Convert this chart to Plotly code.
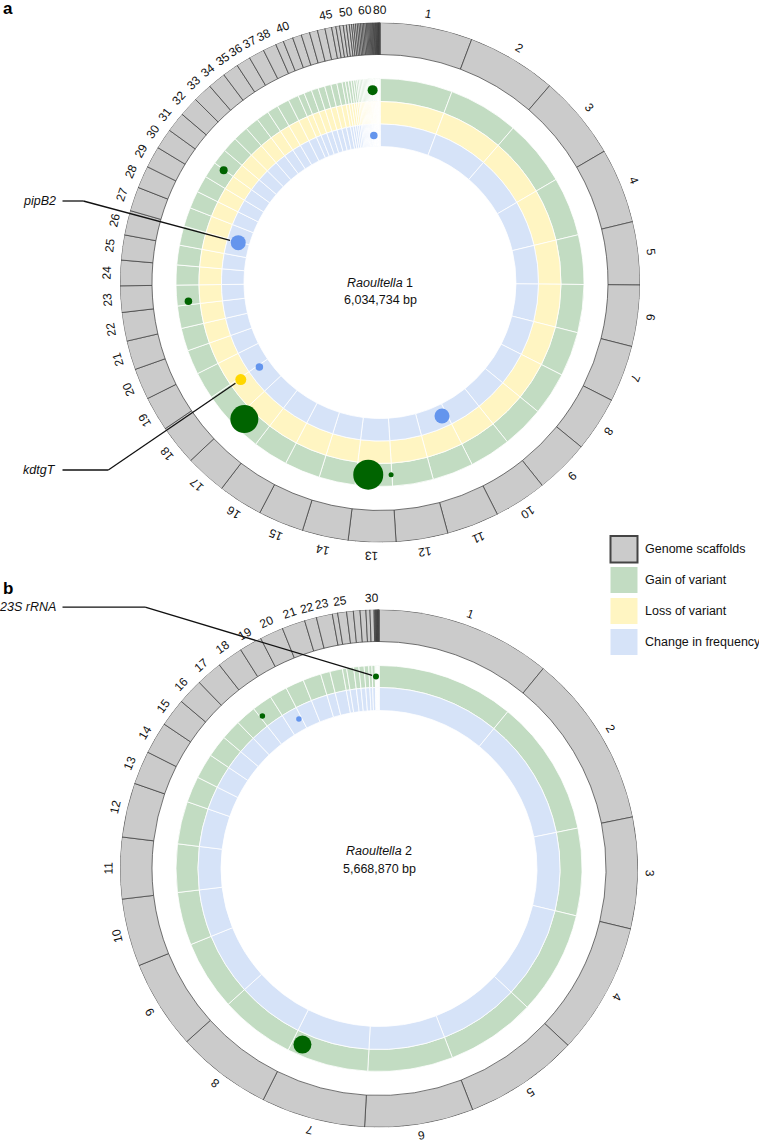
import math
import plotly.graph_objects as go

W, H = 759, 1143

# ---------------- data: Raoultella 1 ----------------
r1_name = "1"
r1_size_text = "6,034,734 bp"
r1_lengths = [
    346334, 336900, 316800, 281600, 236400, 229700, 212900, 206200, 202800, 197800,
    196100, 194500, 177700, 172700, 171000, 167600, 154200, 150900, 129100, 117300,
    109000, 107300, 98900, 95500, 93900, 92200, 90500, 83800, 80500, 77100,
    75400, 73800, 72100, 67100, 60300, 53600, 58700, 50300, 30200, 36900,
    33500, 31800, 30200, 28500, 25100, 15900, 14200, 13400, 11700, 10900,
    8400, 7500, 7000, 6700, 6400, 6000, 5700, 5500, 5400, 5000,
    4500, 4200, 3900, 3500, 3400, 3200, 3000, 2900, 2700, 2500,
    2300, 2200, 2000, 1800, 1700, 1500, 1300, 1300, 1200, 1200,
]
r1_labelled = list(range(1, 39)) + [40, 45, 50, 60, 80]
r1_gain_pos = [5997900, 5124500, 4432200, 3768400, 3076000, 2962000]
r1_gain_mag = [10, 8, 7.5, 28, 30, 5]
r1_loss_pos = [3941000]
r1_loss_mag = [11]
r1_freq_pos = [5994500, 4789200, 3939300, 2600000]
r1_freq_mag = [7.5, 15, 7.5, 15]

# ---------------- data: Raoultella 2 ----------------
r2_name = "2"
r2_size_text = "5,668,870 bp"
r2_lengths = [
    620370, 615700, 393700, 466100, 404700, 384200, 368500, 337000, 314900, 239400,
    217300, 192100, 118100, 113400, 99200, 91300, 92900, 91300, 80300, 83500,
    81900, 42500, 56700, 18900, 31500, 23600, 23600, 20500, 14200, 14200,
    3100, 2400, 2000, 1900, 1600, 1600, 1400, 1300, 1100, 900,
]
r2_labelled = list(range(1, 24)) + [25, 30]
r2_gain_pos = [5654700, 5079900, 3204500]
r2_gain_mag = [6, 5.5, 18]
r2_freq_pos = [5224800]
r2_freq_mag = [5.5]

TICK_STEP = 50000

# gene call-outs: (label, circle, track, index, label y, elbow x)
callouts = [
    ("pipB2", 1, "freq", 1, 201.0, 83.3),
    ("kdtgT", 1, "loss", 0, 470.0, 108.3),
    ("23S rRNA", 2, "gain", 0, 607.2, 145.2),
]

# ---------------- style / geometry ----------------
C_GRAY = "#cbcbcb"
C_GAIN = "#c2dcc2"
C_LOSS = "#fff5c2"
C_FREQ = "#d6e3f8"
D_GAIN = "#006400"
D_LOSS = "#ffd700"
D_FREQ = "#6495ed"
FONT = "Liberation Sans, Arial, sans-serif"

geo = {
    1: dict(cx=380.0, cy=282.5, R=260.0, ring=(228.0, 260.0),
            tracks={"gain": (181.0, 204.0), "loss": (158.5, 181.0), "freq": (136.0, 158.5)},
            lab_r=273.0, sub="polar"),
    2: dict(cx=379.0, cy=868.5, R=259.0, ring=(227.0, 259.0),
            tracks={"gain": (181.0, 203.0), "freq": (158.0, 181.0)},
            lab_r=270.5, sub="polar2"),
}

data = {
    1: dict(lengths=r1_lengths, labelled=r1_labelled, name=r1_name, size=r1_size_text,
            dots={"gain": (r1_gain_pos, r1_gain_mag), "loss": (r1_loss_pos, r1_loss_mag),
                  "freq": (r1_freq_pos, r1_freq_mag)}),
    2: dict(lengths=r2_lengths, labelled=r2_labelled, name=r2_name, size=r2_size_text,
            dots={"gain": (r2_gain_pos, r2_gain_mag), "freq": (r2_freq_pos, r2_freq_mag)}),
}

track_fill = {"gain": C_GAIN, "loss": C_LOSS, "freq": C_FREQ}
dot_fill = {"gain": D_GAIN, "loss": D_LOSS, "freq": D_FREQ}


def px(x):
    return x / W


def py(y):
    return 1 - y / H


def to_xy(g, r, theta):
    t = math.radians(theta)
    return g["cx"] + r * math.sin(t), g["cy"] - r * math.cos(t)


fig = go.Figure()
annotations = []
shapes = []

for k in (1, 2):
    g = geo[k]
    d = data[k]
    lens = d["lengths"]
    total = float(sum(lens))
    widths, mids = [], []
    acc = 0
    for L in lens:
        widths.append(L / total * 360.0)
        mids.append((acc + L / 2.0) / total * 360.0)
        acc += L
    n = len(lens)

    # tracks
    for tname, (r0, r1) in g["tracks"].items():
        fig.add_trace(go.Barpolar(
            r=[r1 - r0] * n, base=[r0] * n, theta=mids, width=widths,
            marker=dict(color=track_fill[tname], line=dict(color="white", width=0.8)),
            hoverinfo="skip", showlegend=False, subplot=g["sub"]))

    # scaffolds ring
    r0, r1 = g["ring"]
    fig.add_trace(go.Barpolar(
        r=[r1 - r0] * n, base=[r0] * n, theta=mids, width=widths,
        marker=dict(color=C_GRAY, line=dict(color="#3a3a3a", width=0.7)),
        hoverinfo="skip", showlegend=False, subplot=g["sub"]))

    # ticks every 50 kb within each scaffold
    tr, tt = [], []
    acc = 0
    for L in lens:
        p = 0
        while p < L:
            th = (acc + p) / total * 360.0
            tr += [r1, r1 + 3.5, None]
            tt += [th, th, None]
            p += TICK_STEP
        acc += L
    fig.add_trace(go.Scatterpolar(
        r=tr, theta=tt, mode="lines", line=dict(color="#444444", width=0.8),
        hoverinfo="skip", showlegend=False, subplot=g["sub"]))

    # variant dots
    for tname, (pos, mag) in d["dots"].items():
        ra, rb = g["tracks"][tname]
        fig.add_trace(go.Scatterpolar(
            r=[(ra + rb) / 2.0] * len(pos), theta=[p / total * 360.0 for p in pos],
            mode="markers",
            marker=dict(size=mag, color=dot_fill[tname], opacity=1, line=dict(width=0)),
            hoverinfo="skip", showlegend=False, subplot=g["sub"]))

    # scaffold labels
    for idx in d["labelled"]:
        th = mids[idx - 1]
        x, y = to_xy(g, g["lab_r"], th)
        ang = th if th <= 180 else th - 360
        annotations.append(dict(
            x=px(x), y=py(y), xref="paper", yref="paper", text=str(idx),
            showarrow=False, textangle=ang, xanchor="center", yanchor="middle",
            font=dict(size=12, color="#111111", family=FONT)))

    # centre text
    annotations.append(dict(
        x=px(g["cx"]), y=py(g["cy"] - 9), xref="paper", yref="paper",
        text="<i>Raoultella</i> " + d["name"], showarrow=False,
        font=dict(size=12.5, color="#111111", family=FONT)))
    annotations.append(dict(
        x=px(g["cx"]), y=py(g["cy"] + 9), xref="paper", yref="paper",
        text=d["size"], showarrow=False,
        font=dict(size=12.5, color="#111111", family=FONT)))

    # polar layout
    dom_x = [px(g["cx"] - g["R"]), px(g["cx"] + g["R"])]
    dom_y = [py(g["cy"] + g["R"]), py(g["cy"] - g["R"])]
    fig.update_layout(**{g["sub"]: dict(
        domain=dict(x=dom_x, y=dom_y),
        bgcolor="rgba(0,0,0,0)",
        barmode="overlay",
        radialaxis=dict(visible=False, range=[0, g["R"]]),
        angularaxis=dict(visible=False, rotation=90, direction="clockwise"),
    )})

# call-outs
for label, k, tname, i, ly, ex in callouts:
    g = geo[k]
    d = data[k]
    total = float(sum(d["lengths"]))
    pos, mag = d["dots"][tname]
    ra, rb = g["tracks"][tname]
    cx_, cy_ = to_xy(g, (ra + rb) / 2.0, pos[i] / total * 360.0)
    vx, vy = cx_ - ex, cy_ - ly
    dist = math.hypot(vx, vy)
    endx = cx_ - vx / dist * (mag[i] / 2.0 + 1)
    endy = cy_ - vy / dist * (mag[i] / 2.0 + 1)
    shapes.append(dict(type="line", xref="paper", yref="paper",
                       x0=px(62.5), y0=py(ly), x1=px(ex), y1=py(ly),
                       line=dict(color="#111111", width=1.3), layer="above"))
    shapes.append(dict(type="line", xref="paper", yref="paper",
                       x0=px(ex), y0=py(ly), x1=px(endx), y1=py(endy),
                       line=dict(color="#111111", width=1.3), layer="above"))
    annotations.append(dict(
        x=px(58), y=py(ly), xref="paper", yref="paper", text="<i>" + label + "</i>",
        showarrow=False, xanchor="right", yanchor="middle",
        font=dict(size=12.5, color="#111111", family=FONT)))

# legend
legend_items = [
    ("Genome scaffolds", C_GRAY, 536.0, 562.5),
    ("Gain of variant", C_GAIN, 567.0, 593.0),
    ("Loss of variant", C_LOSS, 598.0, 624.0),
    ("Change in frequency", C_FREQ, 629.0, 655.0),
]
for j, (txt, col, y0, y1) in enumerate(legend_items):
    shapes.append(dict(type="rect", xref="paper", yref="paper",
                       x0=px(610.5), x1=px(637.5), y0=py(y1), y1=py(y0),
                       fillcolor=col,
                       line=dict(color="#444444", width=2) if j == 0 else dict(width=0),
                       layer="above"))
    annotations.append(dict(
        x=px(643), y=py((y0 + y1) / 2), xref="paper", yref="paper", text=txt,
        showarrow=False, xanchor="left", yanchor="middle",
        font=dict(size=12.5, color="#111111", family=FONT)))

# panel letters
annotations.append(dict(x=px(1), y=py(9), xref="paper", yref="paper", text="<b>a</b>",
                        showarrow=False, xanchor="left", yanchor="middle",
                        font=dict(size=17, color="#000000", family=FONT)))
annotations.append(dict(x=px(1), y=py(588), xref="paper", yref="paper", text="<b>b</b>",
                        showarrow=False, xanchor="left", yanchor="middle",
                        font=dict(size=17, color="#000000", family=FONT)))

fig.update_layout(
    width=W, height=H, autosize=False,
    margin=dict(l=0, r=0, t=0, b=0),
    paper_bgcolor="white", plot_bgcolor="white",
    showlegend=False,
    annotations=annotations, shapes=shapes,
)

fig.write_html(
    "out.html",
    config={"displayModeBar": False},
    post_script="document.body.style.margin='0px';document.body.style.padding='0px';",
)
